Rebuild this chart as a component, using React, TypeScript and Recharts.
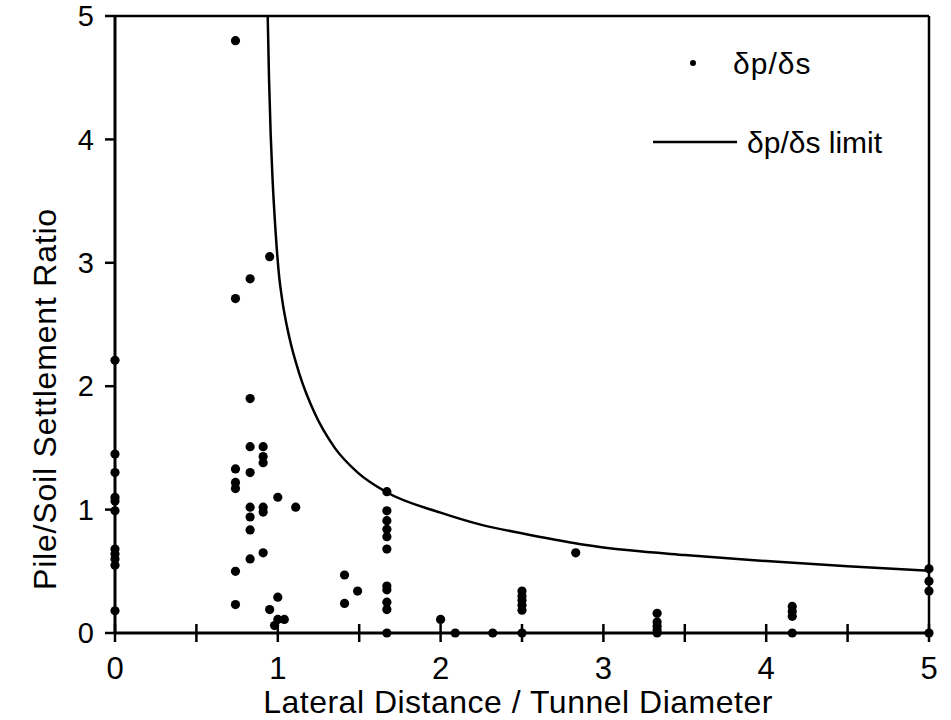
import { ComposedChart, Scatter, Line, XAxis, YAxis, ReferenceLine, Legend, Label } from 'recharts';

const measuredX = [
  0, 0, 0, 0, 0, 0, 0, 0, 0, 0, 0,
  0.74, 0.74, 0.74, 0.74, 0.74, 0.74, 0.74,
  0.83, 0.83, 0.83, 0.83, 0.83, 0.83, 0.83, 0.83,
  0.91, 0.91, 0.91, 0.91, 0.91, 0.91,
  0.95, 0.95,
  1.0, 1.0, 1.0, 0.98, 1.04,
  1.11,
  1.41, 1.41, 1.49,
  1.67, 1.67, 1.67, 1.67, 1.67, 1.67, 1.67, 1.67, 1.67, 1.67, 1.67,
  2.0, 2.09, 2.32,
  2.5, 2.5, 2.5, 2.5, 2.5, 2.5,
  2.83,
  3.33, 3.33, 3.33, 3.33, 3.33,
  4.16, 4.16, 4.16, 4.16,
  5, 5, 5, 5,
];
const measuredY = [
  2.21, 1.45, 1.3, 1.1, 1.07, 0.99, 0.68, 0.64, 0.6, 0.55, 0.18,
  4.8, 2.71, 1.33, 1.22, 1.17, 0.5, 0.23,
  2.87, 1.9, 1.51, 1.3, 1.02, 0.94, 0.835, 0.6,
  1.51, 1.43, 1.38, 1.02, 0.98, 0.65,
  3.05, 0.19,
  1.1, 0.29, 0.11, 0.06, 0.11,
  1.02,
  0.47, 0.24, 0.34,
  1.145, 0.99, 0.91, 0.84, 0.78, 0.68, 0.38, 0.35, 0.25, 0.19, 0,
  0.11, 0, 0,
  0.34, 0.3, 0.265, 0.225, 0.185, 0,
  0.65,
  0.16, 0.09, 0.055, 0.025, 0,
  0.215, 0.175, 0.135, 0,
  0.52, 0.42, 0.34, 0,
];

// limit curve
const limitX = [0.938, 0.946, 0.956, 0.967, 0.987, 1.009, 1.027, 1.07, 1.135, 1.227, 1.35, 1.491, 1.663, 2.0, 2.24, 2.49, 2.86, 3.16, 3.5, 4.0, 4.5, 5.0];
const limitY = [5.0, 4.5, 4.05, 3.7, 3.24, 2.88, 2.7, 2.4, 2.09, 1.78, 1.5, 1.3, 1.145, 0.975, 0.88, 0.81, 0.72, 0.67, 0.632, 0.583, 0.54, 0.505];

const xTicks = [0, 0.5, 1, 1.5, 2, 2.5, 3, 3.5, 4, 4.5, 5];
const yTicks = [0, 1, 2, 3, 4, 5];

const measured = measuredX.map((x, i) => ({ x, y: measuredY[i] }));
const limit = limitX.map((x, i) => ({ x, y: limitY[i] }));

const FONT = '"Liberation Sans", Arial, sans-serif';

const XTick = (props: any) => {
  const { x, y, payload } = props;
  const v = payload.value;
  return (
    <g>
      <line x1={x} x2={x} y1={y - 9} y2={y + 9} stroke="#000" strokeWidth={2.5} />
      {Number.isInteger(v) && (
        <text x={x} y={y + 46} textAnchor="middle" fontSize={31} fontFamily={FONT} fill="#000">
          {v}
        </text>
      )}
    </g>
  );
};

const Dot = (props: any) => <circle cx={props.cx} cy={props.cy} r={4.6} fill="#000" />;

const LegendBox = () => (
  <svg width={300} height={180}>
    <circle cx={53} cy={63} r={3} fill="#000" />
    <text x={93} y={63} dominantBaseline="central" fontSize={30} fontFamily={FONT} fill="#000" letterSpacing={1}>δp/δs</text>
    <line x1={13} x2={97} y1={142} y2={142} stroke="#000" strokeWidth={2.5} />
    <text x={107} y={142} dominantBaseline="central" fontSize={30} fontFamily={FONT} fill="#000">δp/δs limit</text>
  </svg>
);

export default function App() {
  return (
    <div style={{ position: 'absolute', left: 0, top: 0, background: '#fff' }}>
      <ComposedChart width={951} height={720} margin={{ top: 16, right: 22, bottom: 0, left: 55 }}>
        <XAxis
          type="number"
          dataKey="x"
          domain={[0, 5]}
          ticks={xTicks}
          interval={0}
          height={87}
          tickSize={0}
          tickMargin={0}
          tickLine={false}
          tick={<XTick />}
          axisLine={{ stroke: '#000', strokeWidth: 3 }}
        >
          <Label
            content={(p: any) => (
              <text
                x={p.viewBox.x + p.viewBox.width / 2 - 4}
                y={p.viewBox.y + 80}
                textAnchor="middle"
                fontSize={32}
                fontFamily={FONT}
                fill="#000"
                letterSpacing={0.5}
              >
                Lateral Distance / Tunnel Diameter
              </text>
            )}
          />
        </XAxis>
        <YAxis
          type="number"
          dataKey="y"
          domain={[0, 5]}
          ticks={yTicks}
          interval={0}
          width={60}
          tickSize={10}
          tickMargin={11}
          tickLine={{ stroke: '#000', strokeWidth: 2.5 }}
          tick={{ fill: '#000', fontSize: 29, fontFamily: FONT }}
          axisLine={{ stroke: '#000', strokeWidth: 3 }}
        >
          <Label
            content={() => (
              <text
                x={56}
                y={399}
                transform="rotate(-90, 56, 399)"
                textAnchor="middle"
                fontSize={32}
                fontFamily={FONT}
                fill="#000"
                letterSpacing={0.8}
              >
                Pile/Soil  Settlement  Ratio
              </text>
            )}
          />
        </YAxis>
        <ReferenceLine y={5} stroke="#000" strokeWidth={2.5} />
        <ReferenceLine x={5} stroke="#000" strokeWidth={2.5} />
        <Line
          data={limit}
          dataKey="y"
          type="monotone"
          stroke="#000"
          strokeWidth={2.5}
          dot={false}
          activeDot={false}
          isAnimationActive={false}
        />
        <Scatter data={measured} dataKey="y" shape={<Dot />} isAnimationActive={false} />
        <Legend
          layout="horizontal"
          verticalAlign="middle"
          align="center"
          wrapperStyle={{ left: 640, top: 0, width: 300, height: 180 }}
          content={() => <LegendBox />}
        />
      </ComposedChart>
    </div>
  );
}
